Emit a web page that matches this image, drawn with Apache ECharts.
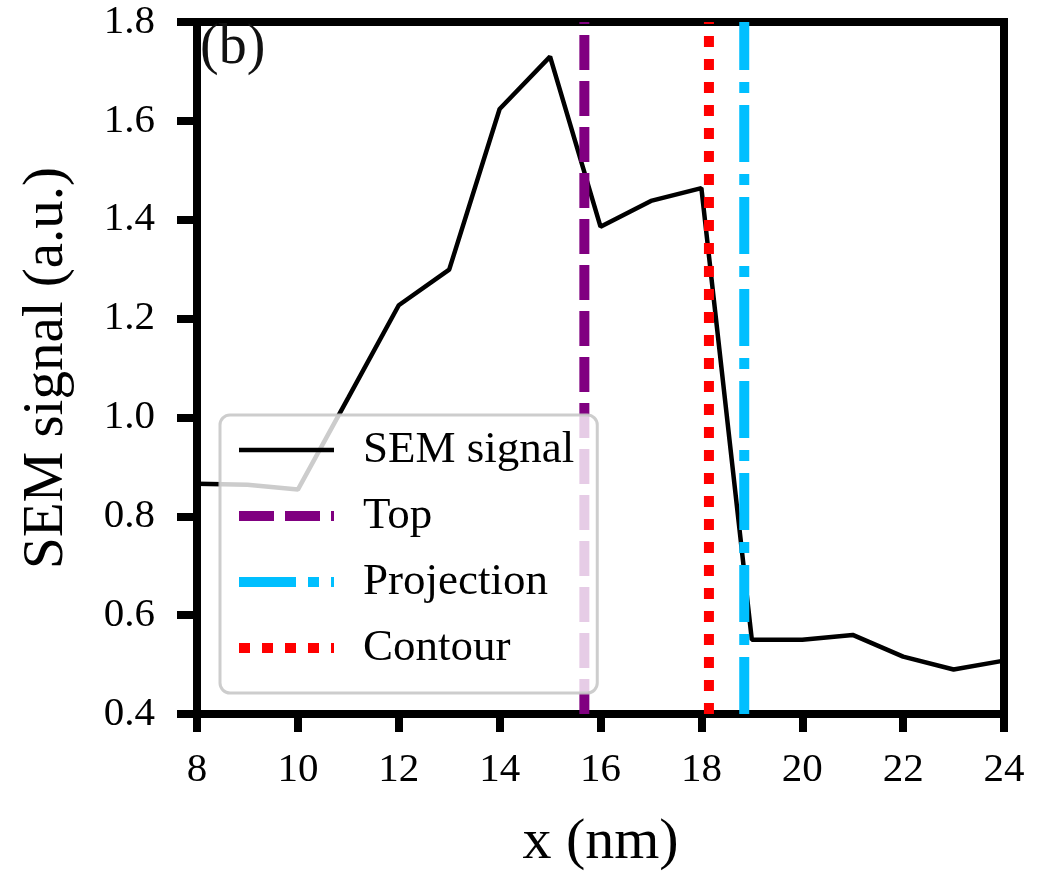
<!DOCTYPE html>
<html>
<head>
<meta charset="utf-8">
<script src="https://cdn.jsdelivr.net/npm/echarts@6/dist/echarts.min.js"></script>
<style>
html,body{margin:0;padding:0;background:#fff;}
#chart{width:1053px;height:877px;}
</style>
</head>
<body>
<div id="chart"></div>
<script>
// SEM signal profile
const xValues = [8, 9, 10, 11, 12, 13, 14, 15, 16, 17, 18, 19, 20, 21, 22, 23, 24];
const semSignal = [0.866, 0.864, 0.854, 1.04, 1.227, 1.299, 1.624, 1.73, 1.386, 1.438, 1.464, 0.55, 0.55, 0.56, 0.516, 0.49, 0.508];
// vertical marker positions (nm)
const topX = 15.68;
const projectionX = 18.85;
const contourX = 18.15;
// axis ranges
const xRange = [8, 24];
const yRange = [0.4, 1.8];
const seriesNames = ['SEM signal', 'Top', 'Projection', 'Contour'];

const FONT = 'Liberation Serif';
const chart = echarts.init(document.getElementById('chart'));

function vline(x) { return [[x, yRange[0]], [x, yRange[1]]]; }

chart.setOption({
  animation: false,
  backgroundColor: '#fff',
  grid: { left: 197, right: 49, top: 22, bottom: 160, show: true, borderColor: '#000', borderWidth: 8, backgroundColor: 'transparent' },
  xAxis: {
    type: 'value', min: xRange[0], max: xRange[1], interval: 2,
    name: 'x (nm)', nameLocation: 'middle', nameGap: 100,
    nameTextStyle: { fontFamily: FONT, fontSize: 58, color: '#000' },
    axisLine: { lineStyle: { color: '#000', width: 8 } },
    axisTick: { length: 18, lineStyle: { color: '#000', width: 8 } },
    axisLabel: { fontFamily: FONT, fontSize: 41, color: '#000', margin: 36 },
    splitLine: { show: false }
  },
  yAxis: {
    type: 'value', min: yRange[0], max: yRange[1], interval: 0.2,
    name: 'SEM signal (a.u.)', nameLocation: 'middle', nameGap: 121,
    nameTextStyle: { fontFamily: FONT, fontSize: 57, color: '#000' },
    axisLine: { lineStyle: { color: '#000', width: 8 } },
    axisTick: { length: 20, lineStyle: { color: '#000', width: 8 } },
    axisLabel: { fontFamily: FONT, fontSize: 41, color: '#000', margin: 42, formatter: v => v.toFixed(1) },
    splitLine: { show: false }
  },
  legend: {
    orient: 'vertical', left: 220, top: 415,
    data: seriesNames,
    padding: [12, 23, 22, 14],
    itemWidth: 95, itemHeight: 20, itemGap: 20,
    backgroundColor: 'rgba(255,255,255,0.8)',
    borderColor: 'rgba(200,200,200,0.9)', borderWidth: 3, borderRadius: 10,
    lineStyle: { width: 'inherit' },
    itemStyle: { opacity: 0, borderWidth: 0 },
    textStyle: { fontFamily: FONT, fontSize: 45, lineHeight: 46, color: '#000', padding: [0, 0, 0, 24] },
    selectedMode: false
  },
  graphic: [{
    type: 'text', left: 200, top: 20, z: 100,
    style: { text: '(b)', font: '56px "Liberation Serif"', fill: '#111' }
  }],
  series: [
    { name: seriesNames[0], type: 'line', data: xValues.map((x, i) => [x, semSignal[i]]), symbol: 'none',
      lineStyle: { color: '#000', width: 4.5 }, itemStyle: { color: '#000' }, z: 2 },
    { name: seriesNames[1], type: 'line', data: vline(topX), symbol: 'none',
      lineStyle: { color: '#800080', width: 10, type: [35, 11], cap: 'butt' }, itemStyle: { color: '#800080' }, z: 3 },
    { name: seriesNames[2], type: 'line', data: vline(projectionX), symbol: 'none',
      lineStyle: { color: '#00BFFF', width: 10, type: [57, 12, 11, 12], cap: 'butt' }, itemStyle: { color: '#00BFFF' }, z: 3 },
    { name: seriesNames[3], type: 'line', data: vline(contourX), symbol: 'none',
      lineStyle: { color: '#FF0000', width: 10, type: [11, 12], cap: 'butt' }, itemStyle: { color: '#FF0000' }, z: 3 }
  ]
});
</script>
</body>
</html>
